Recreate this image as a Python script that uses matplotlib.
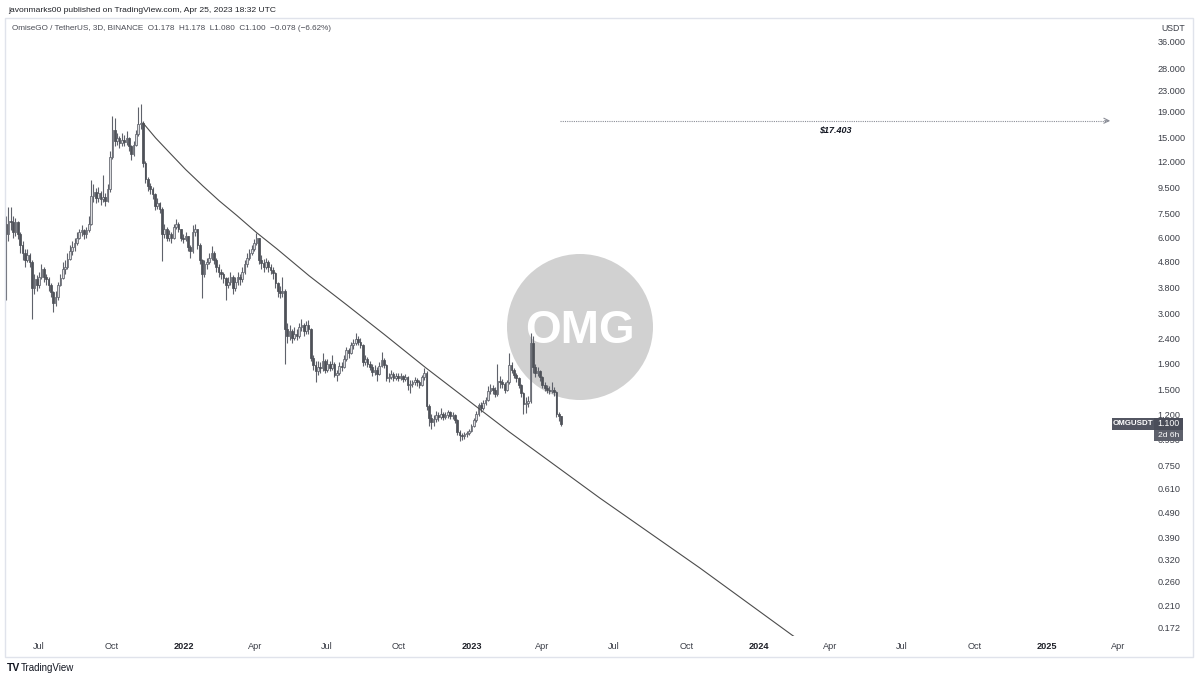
import datetime as dt
import numpy as np
import matplotlib
matplotlib.use("Agg")
import matplotlib.pyplot as plt
import matplotlib.dates as mdates
from matplotlib.patches import Rectangle, Ellipse
from matplotlib.ticker import FixedLocator, NullLocator

# ---------------- data ----------------
first_date = dt.datetime(2021, 5, 20)
period_days = 3
first_open = 6.8
closes = [
    6.2, 7.0, 6.9, 6.3, 6.9, 6.2, 5.6, 5.2, 4.9, 5.1,
    4.8, 3.8, 4.1, 3.9, 4.2, 4.5, 4.2, 4.1, 3.9, 3.65,
    3.3, 3.5, 3.9, 4.15, 4.5, 4.6, 4.95, 5.3, 5.5, 5.7,
    6.0, 6.3, 6.4, 6.2, 6.4, 6.8, 8.8, 9.1, 8.6, 9.0,
    8.5, 8.7, 8.4, 9.3, 12.5, 16.0, 14.5, 14.8, 14.2, 14.6,
    14.4, 14.9, 13.8, 12.8, 14.0, 15.4, 16.9, 17.0, 11.8, 10.2,
    9.6, 9.3, 8.9, 8.0, 8.2, 7.8, 6.2, 6.5, 6.0, 6.2,
    6.0, 6.6, 6.8, 6.5, 6.0, 5.9, 6.1, 5.5, 5.3, 6.3,
    6.5, 5.6, 4.9, 4.3, 4.7, 4.8, 5.0, 5.2, 4.9, 4.6,
    4.4, 4.3, 4.15, 3.9, 4.0, 4.2, 3.8, 4.0, 4.2, 4.1,
    4.4, 4.7, 5.0, 5.2, 5.4, 5.7, 5.95, 4.9, 4.75, 4.6,
    4.8, 4.6, 4.45, 4.35, 3.95, 3.7, 3.62, 3.7, 2.6, 2.45,
    2.55, 2.4, 2.5, 2.45, 2.65, 2.7, 2.55, 2.7, 2.6, 2.0,
    1.88, 1.78, 1.85, 1.82, 1.95, 1.8, 1.9, 1.83, 1.9, 1.72,
    1.75, 1.86, 1.84, 1.98, 2.15, 2.1, 2.25, 2.3, 2.38, 2.32,
    2.25, 1.92, 1.98, 1.9, 1.85, 1.76, 1.8, 1.73, 1.86, 1.97,
    1.88, 1.66, 1.68, 1.73, 1.66, 1.70, 1.67, 1.70, 1.65, 1.68,
    1.56, 1.58, 1.6, 1.63, 1.6, 1.57, 1.68, 1.75, 1.29, 1.16,
    1.12, 1.15, 1.19, 1.17, 1.2, 1.17, 1.19, 1.22, 1.18, 1.19,
    1.14, 1.02, 0.99, 0.98, 1.0, 1.01, 1.03, 1.08, 1.14, 1.2,
    1.3, 1.27, 1.33, 1.37, 1.48, 1.52, 1.5, 1.44, 1.62, 1.6,
    1.58, 1.5, 1.6, 1.88, 1.8, 1.72, 1.66, 1.56, 1.45, 1.32,
    1.33, 1.35, 2.3, 1.85, 1.75, 1.78, 1.68, 1.56, 1.52, 1.5,
    1.48, 1.5, 1.47, 1.2, 1.178, 1.100,
]
highs = [
    7.3, 7.9, 7.95, 7.3, 7.2, 7.0, 6.3, 5.8, 5.4, 5.4,
    5.2, 4.9, 4.3, 4.25, 4.4, 4.7, 4.6, 4.3, 4.2, 3.95,
    3.7, 3.7, 4.0, 4.3, 4.8, 4.9, 5.2, 5.6, 5.8, 6.0,
    6.3, 6.5, 6.7, 6.5, 6.6, 7.3, 10.1, 9.8, 9.4, 9.5,
    9.2, 10.6, 9.0, 9.8, 13.2, 18.2, 17.9, 15.6, 15.2, 15.6,
    15.3, 15.8, 15.0, 14.0, 14.5, 16.0, 19.8, 20.3, 17.4, 12.0,
    10.4, 9.9, 9.5, 9.0, 8.6, 8.3, 7.9, 6.8, 6.6, 6.4,
    6.3, 6.8, 7.1, 6.9, 6.5, 6.2, 6.3, 6.1, 5.6, 6.7,
    6.8, 6.5, 5.7, 4.95, 4.9, 5.0, 5.2, 5.55, 5.3, 5.0,
    4.7, 4.5, 4.4, 4.2, 4.2, 4.4, 4.25, 4.2, 4.4, 4.3,
    4.6, 4.9, 5.2, 5.4, 5.6, 5.9, 6.25, 6.0, 5.1, 4.95,
    5.0, 4.9, 4.7, 4.6, 4.4, 4.0, 3.85, 4.2, 3.75, 2.75,
    2.7, 2.6, 2.65, 2.6, 2.75, 2.85, 2.75, 2.8, 2.83, 2.62,
    2.05, 1.95, 1.95, 1.92, 2.1, 1.98, 1.98, 1.94, 2.05, 1.92,
    1.8, 1.92, 1.92, 2.05, 2.22, 2.2, 2.32, 2.38, 2.51, 2.45,
    2.4, 2.28, 2.05, 2.02, 1.95, 1.9, 1.87, 1.84, 1.92, 2.12,
    2.0, 1.9, 1.74, 1.8, 1.76, 1.75, 1.74, 1.74, 1.72, 1.73,
    1.69, 1.63, 1.64, 1.68, 1.66, 1.63, 1.72, 1.82, 1.78, 1.32,
    1.2, 1.19, 1.23, 1.22, 1.27, 1.22, 1.22, 1.25, 1.23, 1.22,
    1.2, 1.15, 1.04, 1.01, 1.02, 1.03, 1.05, 1.1, 1.16, 1.23,
    1.33, 1.34, 1.37, 1.4, 1.55, 1.58, 1.56, 1.53, 1.9, 1.7,
    1.65, 1.6, 1.64, 2.09, 1.92, 1.82, 1.75, 1.68, 1.58, 1.47,
    1.4, 1.42, 2.52, 2.45, 1.9, 1.84, 1.8, 1.7, 1.6, 1.56,
    1.55, 1.6, 1.53, 1.48, 1.22, 1.178,
]
lows = [
    3.4, 5.8, 6.4, 6.0, 6.1, 5.9, 5.2, 4.9, 4.6, 4.8,
    4.6, 2.85, 3.6, 3.7, 3.8, 4.1, 4.0, 3.9, 3.7, 3.5,
    3.05, 3.2, 3.4, 3.85, 4.1, 4.3, 4.5, 4.9, 5.1, 5.3,
    5.6, 5.9, 6.1, 5.9, 6.0, 6.3, 6.7, 8.3, 8.2, 8.3,
    8.1, 8.3, 8.0, 8.3, 9.1, 12.3, 13.8, 13.9, 13.6, 13.8,
    13.8, 14.0, 13.2, 12.2, 12.6, 13.8, 15.2, 16.2, 11.4, 9.9,
    9.2, 8.9, 8.5, 7.7, 7.8, 7.5, 4.85, 6.0, 5.8, 5.8,
    5.7, 5.9, 6.5, 6.3, 5.8, 5.7, 5.8, 5.3, 5.0, 5.2,
    6.1, 5.4, 4.7, 3.45, 4.2, 4.5, 4.7, 4.9, 4.7, 4.4,
    4.2, 4.1, 3.95, 3.4, 3.8, 3.9, 3.6, 3.7, 3.9, 3.9,
    4.0, 4.3, 4.6, 4.9, 5.1, 5.3, 5.6, 4.7, 4.5, 4.4,
    4.5, 4.4, 4.3, 4.1, 3.8, 3.5, 3.45, 3.5, 1.9, 2.3,
    2.35, 2.3, 2.35, 2.35, 2.4, 2.55, 2.45, 2.5, 2.5, 1.95,
    1.8, 1.6, 1.72, 1.74, 1.78, 1.75, 1.76, 1.78, 1.8, 1.68,
    1.62, 1.72, 1.78, 1.82, 1.95, 2.0, 2.08, 2.18, 2.25, 2.25,
    2.2, 1.86, 1.88, 1.85, 1.8, 1.7, 1.72, 1.62, 1.72, 1.84,
    1.82, 1.62, 1.6, 1.65, 1.62, 1.63, 1.62, 1.64, 1.61, 1.62,
    1.5, 1.45, 1.53, 1.56, 1.55, 1.52, 1.55, 1.64, 1.25, 1.08,
    1.05, 1.08, 1.12, 1.13, 1.15, 1.14, 1.15, 1.16, 1.15, 1.15,
    1.11, 0.99, 0.94, 0.95, 0.96, 0.97, 0.99, 1.02, 1.07, 1.12,
    1.18, 1.22, 1.25, 1.3, 1.35, 1.44, 1.44, 1.4, 1.42, 1.52,
    1.52, 1.46, 1.48, 1.58, 1.74, 1.66, 1.6, 1.52, 1.4, 1.2,
    1.21, 1.28, 1.33, 1.75, 1.68, 1.7, 1.62, 1.52, 1.48, 1.46,
    1.44, 1.45, 1.42, 1.17, 1.13, 1.08,
]

# trend line anchors (date, price)
trend_dates = ["2021-11-10", "2021-11-26", "2021-12-14", "2022-01-03", "2022-01-25",
               "2022-02-15", "2022-03-09", "2022-04-03", "2022-04-29", "2022-06-09",
               "2022-07-27", "2022-09-13", "2022-11-04", "2023-02-18", "2023-06-13",
               "2023-10-18", "2024-02-12", "2024-05-08"]
trend_prices = [17.05, 14.87, 12.97, 11.16, 9.60,
                8.37, 7.34, 6.28, 5.41, 4.23,
                3.24, 2.47, 1.83, 1.02, 0.558,
                0.295, 0.160, 0.1054]

# horizontal target arrow
target_price = 17.403
target_start = "2023-04-24"
target_end = "2025-03-21"
target_label = "$17.403"

y_ticks = [36, 28, 23, 19, 15, 12, 9.5, 7.5, 6, 4.8, 3.8, 3.0, 2.4, 1.9, 1.5, 1.2,
           0.95, 0.75, 0.61, 0.49, 0.39, 0.32, 0.26, 0.21, 0.172]
x_tick_dates = ["2021-07-01", "2021-10-01", "2022-01-01", "2022-04-01", "2022-07-01",
                "2022-10-01", "2023-01-01", "2023-04-01", "2023-07-01", "2023-10-01",
                "2024-01-01", "2024-04-01", "2024-07-01", "2024-10-01", "2025-01-01",
                "2025-04-01"]
x_tick_labels = ["Jul", "Oct", "2022", "Apr", "Jul", "Oct", "2023", "Apr", "Jul", "Oct",
                 "2024", "Apr", "Jul", "Oct", "2025", "Apr"]

header1 = "javonmarks00 published on TradingView.com, Apr 25, 2023 18:32 UTC"
header2 = "OmiseGO / TetherUS, 3D, BINANCE  O1.178  H1.178  L1.080  C1.100  \u22120.078 (\u22126.62%)"
symbol = "OMGUSDT"
countdown = "2d 6h"

# ---------------- figure ----------------
W, H = 1200, 680
plt.rcParams["font.family"] = ["Liberation Sans", "DejaVu Sans"]
fig = plt.figure(figsize=(W / 100, H / 100), dpi=100)
fig.patch.set_facecolor("white")


def frect(x0, y0, x1, y1):
    return [x0 / W, 1 - y1 / H, (x1 - x0) / W, (y1 - y0) / H]


L_PX, T_PX, R_PX, B_PX = 5, 18, 1150, 636
ax = fig.add_axes(frect(L_PX, T_PX, R_PX, B_PX))
ax.set_facecolor("white")
for s in ax.spines.values():
    s.set_visible(False)

n = len(closes)
dates = [first_date + dt.timedelta(days=period_days * i) for i in range(n)]
xd = mdates.date2num(dates)
c = np.array(closes)
o = np.concatenate([[first_open], c[:-1]])
h = np.maximum(np.array(highs), np.maximum(o, c))
l = np.minimum(np.array(lows), np.minimum(o, c))
up = c >= o

# axis scales
base = mdates.date2num(dt.datetime(2022, 1, 1))
px_per_day = 0.7875
ax.set_xlim(base + (L_PX - 184) / px_per_day, base + (R_PX - 184) / px_per_day)
ax.set_yscale("log")
ax.set_ylim(0.1586, 44.4)

# OMG badge (background image in the chart)
cx, cy, rad = 580, 327, 73
ax.add_patch(Ellipse(((cx - L_PX) / (R_PX - L_PX), 1 - (cy - T_PX) / (B_PX - T_PX)),
                     2 * rad / (R_PX - L_PX), 2 * rad / (B_PX - T_PX),
                     transform=ax.transAxes, facecolor="#d1d1d1", edgecolor="none", zorder=1))
ax.text((cx - L_PX) / (R_PX - L_PX), 1 - (343 - T_PX) / (B_PX - T_PX), "OMG",
        transform=ax.transAxes, ha="center", va="baseline", color="white",
        fontsize=33, fontweight="bold", zorder=2)

# candles
ax.vlines(xd, l, h, color="#5f626b", lw=0.8, zorder=3)
ax.bar(xd[up], (c - o)[up], bottom=o[up], width=2.1, color="#dcdde0",
       edgecolor="#5f626b", linewidth=0.55, zorder=4)
ax.bar(xd[~up], (o - c)[~up], bottom=c[~up], width=2.1, color="#4e5158",
       edgecolor="#4e5158", linewidth=0.55, zorder=4)

# trend line
td = mdates.date2num([dt.datetime.fromisoformat(d) for d in trend_dates])
ax.plot(td, trend_prices, color="#4c4c4c", lw=0.8, zorder=5, solid_joinstyle="round")

# target arrow
t0 = mdates.date2num(dt.datetime.fromisoformat(target_start))
t1 = mdates.date2num(dt.datetime.fromisoformat(target_end))
ax.plot([t0, t1], [target_price, target_price], color="#8a8d96", lw=0.8,
        linestyle=(0, (1, 1)), zorder=5)
ax.annotate("", xy=(t1 + 1, target_price), xytext=(t1 - 6, target_price),
            arrowprops=dict(arrowstyle="->", color="#8a8d96", lw=0.8,
                            shrinkA=0, shrinkB=0, mutation_scale=9), zorder=5)
ax.annotate(target_label, xy=((t0 + t1) / 2, target_price), xytext=(0, -6.5),
            textcoords="offset points", ha="center", va="center", fontsize=6.5,
            fontstyle="italic", fontweight="bold", color="#131722", zorder=6)

# axes ticks
ax.yaxis.tick_right()
ax.yaxis.set_major_locator(FixedLocator(y_ticks))
ax.yaxis.set_minor_locator(NullLocator())
ax.set_yticklabels([f"{v:.3f}" for v in y_ticks])
ax.tick_params(axis="y", which="both", length=0, pad=5.5, labelsize=6.6, labelcolor="#3c3f48")

xt = mdates.date2num([dt.datetime.fromisoformat(d) for d in x_tick_dates])
ax.set_xticks(xt)
ax.set_xticklabels(x_tick_labels)
ax.tick_params(axis="x", length=0, pad=4, labelsize=6.6, labelcolor="#3c3f48")
for lab in ax.get_xticklabels():
    if lab.get_text().isdigit():
        lab.set_fontweight("bold")
        lab.set_color("#1e2028")

# frame around the chart
fig.add_artist(Rectangle((5 / W, 1 - 657 / H), (1193 - 5) / W, (657 - 18) / H,
                         transform=fig.transFigure, fill=False, edgecolor="#e0e3eb", lw=1))

# header texts
fig.text(8 / W, 1 - 10 / H, header1, ha="left", va="center", fontsize=6.1, color="#202228")
fig.text(12 / W, 1 - 28.5 / H, header2, ha="left", va="center", fontsize=5.85, color="#4a4c55")
fig.text(1161 / W, 1 - 28.5 / H, "USDT", ha="left", va="center", fontsize=6.3, color="#3c3f48")

# last price tag
ax.figure.canvas.draw()
ypx = H - ax.transData.transform((xd[-1], c[-1]))[1]
fig.add_artist(Rectangle(frect(1112, ypx - 5.5, 1154, ypx + 6)[:2],
                         42 / W, 11.5 / H, transform=fig.transFigure, facecolor="#535662", edgecolor="none"))
fig.add_artist(Rectangle(frect(1154, ypx - 5.5, 1183, ypx + 6)[:2],
                         29 / W, 11.5 / H, transform=fig.transFigure, facecolor="#4a4d59", edgecolor="none"))
fig.add_artist(Rectangle(frect(1154, ypx + 6, 1183, ypx + 17)[:2],
                         29 / W, 11 / H, transform=fig.transFigure, facecolor="#5d606b", edgecolor="none"))
fig.text(1133 / W, 1 - (ypx + 0.3) / H, symbol, ha="center", va="center", fontsize=5.7,
         color="white", fontweight="bold")
fig.text(1168.5 / W, 1 - (ypx + 0.3) / H, f"{c[-1]:.3f}", ha="center", va="center",
         fontsize=6.3, color="white")
fig.text(1168.5 / W, 1 - (ypx + 11.5) / H, countdown, ha="center", va="center",
         fontsize=6.1, color="white")

# TradingView footer
fig.text(7 / W, 1 - 668 / H, "TV", ha="left", va="center", fontsize=7.5,
         fontweight="heavy", color="#131722")
fig.text(21 / W, 1 - 668 / H, "TradingView", ha="left", va="center", fontsize=7,
         color="#131722")

fig.savefig("out.png", dpi=100, facecolor="white")
